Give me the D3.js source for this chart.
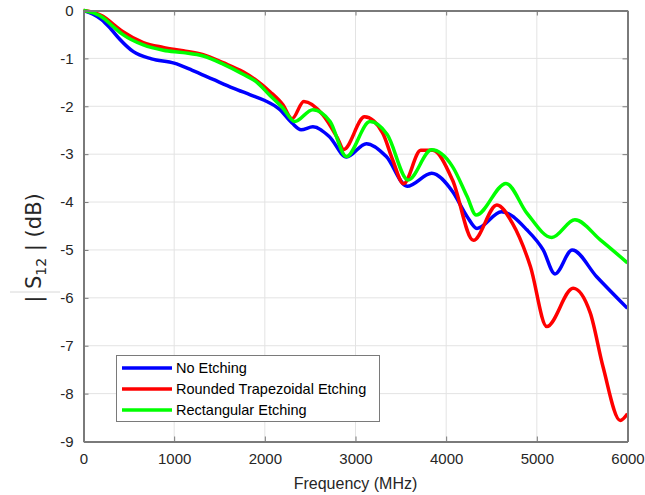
<!DOCTYPE html>
<html>
<head>
<meta charset="utf-8">
<script src="https://cdn.jsdelivr.net/npm/d3@7"></script>
<style>
  body { margin: 0; background: #fff; }
  text { font-family: "Liberation Sans", Arial, sans-serif; }
</style>
</head>
<body>
<div id="chart"></div>
<script>
// frequency (MHz) and |S12| (dB)
const freqNo   = [0, 100, 200, 300, 400, 550, 750, 1000, 1200, 1430, 1650, 1840, 2000, 2160, 2300, 2400, 2530, 2710, 2900, 3120, 3340, 3570, 3840, 4070, 4230, 4340, 4610, 4890, 5070, 5200, 5390, 5660, 6000];
const valNo    = [0, -0.07, -0.19, -0.38, -0.60, -0.86, -1.01, -1.10, -1.25, -1.44, -1.62, -1.76, -1.88, -2.06, -2.35, -2.49, -2.43, -2.63, -3.06, -2.78, -3.05, -3.67, -3.40, -3.78, -4.30, -4.55, -4.20, -4.58, -5.00, -5.50, -5.00, -5.56, -6.22];

const freqRound = [0, 110, 215, 330, 440, 660, 880, 1100, 1320, 1540, 1760, 1900, 2060, 2200, 2300, 2430, 2640, 2800, 2870, 3100, 3300, 3410, 3530, 3720, 3850, 4070, 4300, 4560, 4730, 4930, 5110, 5400, 5590, 5730, 5920, 6000];
const valRound  = [0, -0.04, -0.12, -0.29, -0.45, -0.67, -0.77, -0.84, -0.92, -1.09, -1.28, -1.45, -1.70, -1.97, -2.26, -1.90, -2.18, -2.66, -2.90, -2.22, -2.56, -3.12, -3.62, -2.92, -2.92, -3.54, -4.80, -4.06, -4.44, -5.35, -6.60, -5.80, -6.32, -7.44, -8.56, -8.42];

const freqRect = [0, 110, 215, 330, 440, 660, 880, 1100, 1320, 1540, 1760, 1900, 2060, 2200, 2330, 2530, 2720, 2900, 3160, 3350, 3580, 3840, 4070, 4230, 4330, 4660, 4890, 5165, 5420, 5700, 6000];
const valRect  = [0, -0.05, -0.15, -0.34, -0.51, -0.72, -0.83, -0.88, -0.95, -1.12, -1.33, -1.48, -1.78, -2.04, -2.32, -2.07, -2.32, -3.05, -2.32, -2.59, -3.54, -2.91, -3.26, -3.88, -4.27, -3.61, -4.23, -4.74, -4.37, -4.79, -5.27];

const seriesNames = ["No Etching", "Rounded Trapezoidal Etching", "Rectangular Etching"];
const seriesColors = ["#0000ff", "#ff0000", "#00ff00"];
const xTicks = [0, 1000, 2000, 3000, 4000, 5000, 6000];
const yTicks = [0, -1, -2, -3, -4, -5, -6, -7, -8, -9];

const series = [
  d3.zip(freqNo, valNo),
  d3.zip(freqRound, valRound),
  d3.zip(freqRect, valRect)
];

const W = 645, H = 495;
const m = {left: 83.5, right: 17.5, top: 10.5, bottom: 53.5};

const svg = d3.select("#chart").append("svg")
  .attr("width", W).attr("height", H);

const x = d3.scaleLinear().domain([0, 6000]).range([m.left, W - m.right]);
const y = d3.scaleLinear().domain([-9, 0]).range([H - m.bottom, m.top]);

// grid
svg.append("g").selectAll("line").data(xTicks.slice(1, -1)).join("line")
  .attr("x1", d => x(d)).attr("x2", d => x(d))
  .attr("y1", y(0)).attr("y2", y(-9))
  .attr("stroke", "#e3e3e3").attr("stroke-width", 1);
svg.append("g").selectAll("line").data(yTicks.slice(1, -1)).join("line")
  .attr("y1", d => y(d)).attr("y2", d => y(d))
  .attr("x1", x(0)).attr("x2", x(6000))
  .attr("stroke", "#e3e3e3").attr("stroke-width", 1);

// curves
const line = d3.line()
  .x(d => x(d[0]))
  .y(d => y(d[1]))
  .curve(d3.curveMonotoneX);

series.forEach((s, i) => {
  svg.append("path")
    .attr("d", line(s))
    .attr("fill", "none")
    .attr("stroke", seriesColors[i])
    .attr("stroke-width", 3.5)
    .attr("stroke-linejoin", "round");
});

// axes (box with inward ticks)
const axColor = "#7a7a7a";
const xAxis = svg.append("g").attr("transform", `translate(0,${y(-9)})`)
  .call(d3.axisBottom(x).tickValues(xTicks).tickSizeInner(-5).tickSizeOuter(0).tickPadding(12)
    .tickFormat(d3.format("d")));
const yAxis = svg.append("g").attr("transform", `translate(${x(0)},0)`)
  .call(d3.axisLeft(y).tickValues(yTicks).tickSizeInner(-5).tickSizeOuter(0).tickPadding(10)
    .tickFormat(d => d === 0 ? "0" : "-" + Math.abs(d)));
const xTop = svg.append("g").attr("transform", `translate(0,${y(0)})`)
  .call(d3.axisTop(x).tickValues(xTicks).tickSizeInner(-5).tickSizeOuter(0).tickFormat(""));
const yRight = svg.append("g").attr("transform", `translate(${x(6000)},0)`)
  .call(d3.axisRight(y).tickValues(yTicks).tickSizeInner(-5).tickSizeOuter(0).tickFormat(""));

[xAxis, yAxis, xTop, yRight].forEach(g => {
  g.select(".domain").attr("stroke", axColor).attr("stroke-width", 2);
  g.selectAll(".tick line").attr("stroke", axColor);
  g.selectAll(".tick text").attr("fill", "#262626")
    .style("font-size", "15px").style("font-family", "'Liberation Sans', Arial, sans-serif");
});

// axis labels
svg.append("text")
  .attr("x", (x(0) + x(6000)) / 2).attr("y", 489)
  .attr("text-anchor", "middle")
  .attr("fill", "#262626")
  .style("font-size", "16px")
  .text("Frequency (MHz)");

const yl = svg.append("text")
  .attr("transform", `translate(41,${(y(0) + y(-9)) / 2 + 22}) rotate(-90)`)
  .attr("text-anchor", "middle")
  .attr("fill", "#262626")
  .style("font-size", "21px")
  .style("font-family", "'DejaVu Sans', sans-serif");
yl.append("tspan").text("| S");
yl.append("tspan").attr("dy", 5).style("font-size", "14px").text("12");
yl.append("tspan").attr("dy", -5).text(" | (dB)");

// faint mark at left
svg.append("line")
  .attr("x1", 10).attr("x2", 60).attr("y1", 292).attr("y2", 292)
  .attr("stroke", "#d8d8d8").attr("stroke-width", 1);

// legend
const lg = svg.append("g");
lg.append("rect")
  .attr("x", 116.5).attr("y", 355.5).attr("width", 263).attr("height", 66)
  .attr("fill", "#fff").attr("stroke", "#7a7a7a").attr("stroke-width", 1);
seriesNames.forEach((name, i) => {
  const yy = 368 + i * 21;
  lg.append("line")
    .attr("x1", 122).attr("x2", 172).attr("y1", yy).attr("y2", yy)
    .attr("stroke", seriesColors[i]).attr("stroke-width", 3.5);
  lg.append("text")
    .attr("x", 176).attr("y", yy + 5)
    .attr("fill", "#000")
    .style("font-size", "14.5px")
    .text(name);
});
</script>
</body>
</html>
